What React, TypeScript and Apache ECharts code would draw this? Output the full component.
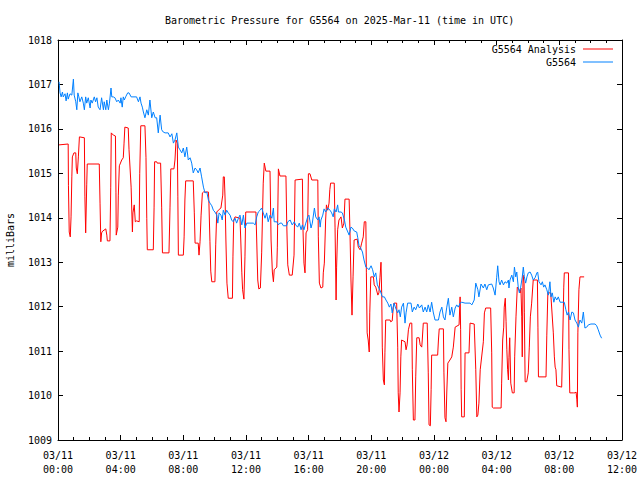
import React, { useEffect, useRef } from "react";
import * as echarts from "echarts";

const TITLE = "Barometric Pressure for G5564 on 2025-Mar-11 (time in UTC)";
const Y_NAME = "milliBars";
const SERIES_NAMES = ["G5564 Analysis", "G5564"];

// minutes since 03/11 00:00 UTC
const analysisMinutes = [4,39,40,43,47,50,53,55,61,68,70,74,78,82,101,103,106,110,112,158,161,164,167,171,183,187,189,199,202,204,212,220,222,223,229,231,235,244,250,253,256,269,272,280,285,287,292,296,301,311,313,317,333,337,340,342,365,368,370,378,380,393,397,400,425,429,432,444,448,452,457,459,461,480,483,486,489,518,522,525,537,540,544,548,553,557,576,578,582,585,589,601,604,608,614,624,631,633,637,640,643,647,652,668,670,673,678,697,700,704,707,712,716,719,758,761,765,769,775,780,786,790,796,812,816,821,825,828,838,840,844,850,873,876,880,886,897,904,908,936,938,942,946,950,956,959,965,972,995,997,1001,1007,1014,1016,1020,1025,1028,1033,1038,1041,1044,1058,1061,1065,1067,1071,1076,1084,1089,1095,1099,1115,1118,1122,1126,1130,1134,1146,1150,1157,1163,1169,1173,1179,1181,1184,1188,1192,1194,1198,1208,1211,1217,1225,1229,1233,1237,1240,1242,1246,1250,1252,1255,1272,1274,1280,1284,1287,1297,1301,1303,1306,1310,1313,1316,1329,1333,1337,1342,1348,1355,1357,1361,1367,1370,1374,1383,1387,1393,1395,1399,1414,1418,1421,1426,1429,1431,1454,1457,1460,1476,1478,1482,1486,1489,1493,1501,1508,1514,1521,1536,1540,1542,1544,1546,1556,1559,1574,1578,1594,1600,1604,1608,1612,1617,1629,1633,1638,1657,1661,1663,1667,1697,1699,1703,1707,1709,1713,1716,1719,1722,1725,1727,1730,1734,1740,1747,1749,1754,1759,1766,1770,1773,1776,1778,1781,1785,1786,1789,1795,1801,1805,1809,1814,1820,1836,1838,1840,1869,1872,1876,1887,1897,1901,1904,1907,1910,1929,1933,1937,1939,1955,1957,1960,1974,1980,1984,1987,1989,1991,1995,1999,2015];
const analysisValues = [1015.64,1015.66,1014.72,1013.68,1013.57,1014.02,1014.92,1015.37,1015.46,1015.46,1015.12,1014.99,1015.37,1015.82,1015.80,1014.47,1013.66,1014.74,1015.21,1015.21,1014.33,1013.46,1013.66,1013.70,1013.75,1013.61,1013.48,1013.48,1014.69,1015.91,1015.86,1015.84,1014.56,1013.61,1013.79,1014.51,1015.17,1015.30,1015.35,1015.68,1016.04,1016.02,1015.53,1014.69,1013.68,1014.11,1014.29,1013.91,1013.93,1013.91,1014.99,1016.07,1016.07,1015.35,1013.99,1013.28,1013.28,1014.24,1015.26,1015.26,1015.23,1015.23,1014.24,1013.21,1013.21,1014.24,1015.10,1015.10,1015.30,1015.75,1015.68,1014.47,1013.16,1013.16,1013.57,1014.40,1014.83,1014.83,1014.11,1013.43,1013.43,1013.16,1013.46,1014.06,1014.56,1014.58,1014.58,1014.33,1013.46,1012.80,1012.56,1012.56,1013.39,1014.13,1014.17,1014.22,1014.51,1014.92,1014.92,1014.40,1013.50,1012.53,1012.19,1012.19,1013.12,1013.95,1014.02,1013.99,1013.50,1012.76,1012.38,1012.17,1013.12,1014.13,1014.13,1013.50,1012.60,1012.40,1012.42,1013.21,1014.78,1015.23,1015.05,1015.05,1013.50,1012.78,1012.56,1012.83,1012.89,1013.34,1015.10,1014.94,1014.94,1013.88,1012.94,1012.71,1012.71,1013.16,1014.85,1014.87,1013.79,1012.98,1012.76,1013.66,1013.73,1014.99,1014.99,1014.85,1014.85,1013.57,1012.53,1012.42,1012.44,1012.76,1012.98,1013.95,1014.29,1014.17,1014.33,1014.63,1014.78,1014.78,1013.79,1012.15,1012.89,1013.73,1013.95,1014.02,1013.77,1013.88,1014.42,1014.42,1013.73,1012.60,1011.81,1012.67,1013.50,1013.52,1013.34,1013.28,1013.43,1013.57,1013.91,1013.91,1012.76,1011.41,1011.25,1010.98,1011.86,1012.67,1012.67,1012.49,1012.44,1012.26,1012.31,1012.65,1013.00,1012.22,1011.09,1010.35,1010.24,1010.96,1011.70,1011.70,1011.66,1011.68,1011.99,1012.08,1012.08,1011.09,1010.06,1009.63,1010.06,1010.87,1011.25,1011.21,1011.03,1011.14,1011.48,1011.63,1011.63,1010.58,1009.45,1009.45,1010.42,1011.30,1011.30,1011.14,1011.09,1011.25,1011.63,1011.63,1010.51,1009.34,1009.32,1010.13,1010.91,1010.91,1011.25,1011.50,1011.50,1010.51,1009.50,1009.41,1010.08,1010.73,1010.80,1010.87,1011.09,1011.54,1011.59,1012.22,1011.48,1010.13,1009.52,1009.52,1010.96,1010.96,1011.63,1011.61,1010.58,1009.52,1009.56,1009.83,1010.58,1011.21,1011.86,1011.97,1011.97,1010.96,1009.74,1009.72,1009.72,1010.28,1011.25,1011.54,1011.99,1012.19,1011.66,1011.03,1010.58,1010.35,1010.85,1011.30,1010.28,1010.06,1010.06,1010.87,1011.77,1012.44,1012.38,1012.31,1012.42,1011.77,1010.87,1012.71,1012.53,1011.86,1010.31,1010.31,1010.51,1011.09,1011.77,1012.08,1012.60,1012.60,1011.54,1010.42,1010.42,1011.36,1012.31,1012.31,1011.41,1010.87,1010.64,1010.58,1010.22,1010.19,1011.25,1012.44,1012.76,1012.76,1011.03,1010.06,1010.06,1010.06,1010.08,1009.92,1009.74,1011.41,1012.38,1012.67,1012.67];

const obsMinutes = [4,8,12,17,20,27,31,36,39,46,53,59,62,68,72,76,80,84,91,97,101,106,110,116,123,126,131,139,144,149,154,161,167,174,177,183,187,193,197,203,206,212,218,225,231,238,241,246,250,254,259,267,272,280,301,308,314,318,323,327,333,340,346,352,359,365,372,378,384,391,397,403,410,422,429,436,442,448,455,461,467,474,480,486,493,499,506,512,518,525,531,537,544,550,557,563,570,576,582,589,595,601,608,612,617,624,629,633,640,646,652,659,665,671,678,684,691,697,704,710,716,723,735,748,755,761,767,774,780,786,793,799,805,812,819,825,828,838,844,850,857,863,876,880,889,897,905,910,918,924,931,936,942,949,953,956,961,969,974,982,987,995,1000,1004,1007,1014,1019,1025,1033,1042,1048,1054,1058,1065,1071,1074,1084,1089,1097,1102,1110,1115,1122,1127,1135,1144,1148,1153,1159,1166,1172,1179,1185,1191,1199,1205,1211,1217,1223,1229,1236,1242,1250,1256,1263,1269,1275,1280,1287,1293,1301,1306,1311,1316,1323,1329,1333,1339,1352,1357,1364,1370,1378,1384,1393,1399,1406,1412,1418,1425,1431,1437,1444,1457,1463,1470,1476,1482,1489,1495,1501,1508,1514,1521,1527,1533,1540,1546,1559,1578,1585,1594,1600,1608,1612,1620,1629,1635,1642,1648,1661,1667,1674,1680,1684,1689,1693,1699,1706,1712,1719,1725,1727,1731,1738,1744,1748,1753,1757,1763,1767,1772,1778,1782,1786,1791,1796,1801,1808,1814,1820,1827,1834,1837,1842,1850,1855,1860,1865,1872,1878,1884,1888,1893,1899,1904,1910,1916,1923,1939,1945,1950,1955,1961,1968,1974,1980,1987,1993,1999,2006,2012,2018,2025,2031,2041,2057,2063,2069,2076,2082];
const obsValues = [1017.06,1016.81,1016.72,1016.83,1016.72,1016.79,1016.63,1016.81,1016.67,1016.79,1016.76,1017.12,1016.76,1016.61,1016.43,1016.81,1016.72,1016.61,1016.72,1016.58,1016.43,1016.72,1016.58,1016.70,1016.47,1016.65,1016.58,1016.72,1016.61,1016.70,1016.49,1016.43,1016.70,1016.43,1016.61,1016.43,1016.65,1016.43,1016.58,1016.92,1016.72,1016.72,1016.70,1016.61,1016.65,1016.58,1016.70,1016.49,1016.72,1016.65,1016.72,1016.81,1016.81,1016.72,1016.72,1016.61,1016.72,1016.58,1016.49,1016.38,1016.25,1016.43,1016.31,1016.65,1016.25,1016.38,1016.25,1016.25,1015.91,1016.31,1015.98,1015.93,1015.91,1015.91,1015.82,1015.89,1015.68,1015.75,1015.91,1015.59,1015.53,1015.46,1015.57,1015.37,1015.59,1015.30,1015.35,1015.23,1015.01,1015.12,1015.08,1015.01,1015.12,1014.92,1014.69,1014.56,1014.58,1014.40,1014.33,1014.27,1014.17,1014.13,1014.06,1013.88,1014.11,1014.06,1013.95,1014.17,1014.06,1014.17,1014.11,1014.06,1013.95,1013.91,1013.99,1013.88,1013.99,1014.06,1013.84,1014.06,1013.77,1013.88,1013.88,1013.88,1013.84,1014.02,1014.13,1014.17,1014.22,1014.11,1013.99,1014.11,1013.91,1014.06,1013.99,1014.22,1013.91,1013.91,1013.84,1013.88,1013.88,1013.82,1013.82,1013.91,1013.95,1013.84,1013.91,1013.84,1013.79,1013.88,1013.73,1013.84,1013.73,1013.88,1013.95,1014.02,1014.06,1013.77,1013.88,1014.22,1014.02,1013.95,1014.02,1013.79,1013.95,1014.06,1014.20,1014.13,1014.22,1014.17,1014.11,1014.02,1014.20,1014.13,1014.29,1014.13,1014.13,1014.11,1013.95,1013.79,1013.68,1013.61,1013.79,1013.77,1013.70,1013.68,1013.55,1013.37,1013.32,1013.23,1013.05,1012.89,1012.87,1012.83,1012.92,1012.83,1012.67,1012.76,1012.49,1012.42,1012.33,1012.22,1012.22,1012.15,1012.08,1011.99,1012.06,1011.86,1012.08,1011.97,1011.86,1011.93,1011.77,1011.99,1012.08,1011.63,1011.86,1012.08,1012.08,1011.88,1011.99,1011.93,1012.06,1011.97,1012.04,1011.88,1011.99,1011.88,1012.04,1011.88,1012.10,1011.88,1011.70,1011.70,1011.88,1011.99,1011.77,1011.70,1011.99,1012.19,1011.81,1011.99,1011.77,1011.97,1012.04,1011.99,1012.08,1012.10,1012.08,1012.08,1012.04,1012.15,1012.53,1012.38,1012.22,1012.51,1012.42,1012.51,1012.38,1012.49,1012.51,1012.42,1012.26,1012.65,1012.92,1012.56,1012.49,1012.60,1012.49,1012.56,1012.53,1012.60,1012.42,1012.60,1012.71,1012.56,1012.89,1012.67,1012.78,1012.42,1012.31,1012.44,1012.67,1012.89,1012.67,1012.53,1012.67,1012.76,1012.78,1012.71,1012.60,1012.65,1012.76,1012.78,1012.56,1012.49,1012.56,1012.44,1012.49,1012.38,1012.26,1012.56,1012.22,1012.31,1012.10,1012.22,1012.15,1012.22,1012.10,1012.10,1011.93,1011.81,1011.88,1011.70,1011.88,1011.86,1011.70,1011.63,1011.54,1011.70,1011.63,1011.88,1011.52,1011.54,1011.59,1011.61,1011.61,1011.57,1011.48,1011.36,1011.29];

const X_MIN = 0;
const X_MAX = 2160;
const X_STEP = 240;
const Y_MIN = 1009;
const Y_MAX = 1018;

const FONT = "DejaVu Sans Mono";
const RED = "#ff0000";
const BLUE = "#0080ff";

function pad(n: number) {
  return n < 10 ? "0" + n : "" + n;
}
function fmtTime(v: number) {
  const day = 11 + Math.floor(v / 1440);
  const h = Math.floor((v % 1440) / 60);
  return "03/" + pad(day) + "\n" + pad(h) + ":00";
}

export default function App() {
  const ref = useRef<HTMLDivElement>(null);
  useEffect(() => {
    if (!ref.current) return;
    const chart = echarts.init(ref.current, null, { renderer: "svg" });
    const tickCommon = {
      show: true,
      inside: true,
      length: 5,
      lineStyle: { color: "#000", width: 1 },
    };
    const minorCommon = {
      show: true,
      splitNumber: 4,
      length: 3,
      lineStyle: { color: "#000", width: 1 },
    };
    const xBase = {
      type: "value",
      min: X_MIN,
      max: X_MAX,
      interval: X_STEP,
      axisLine: { show: true, onZero: false, lineStyle: { color: "#000", width: 1 } },
      axisTick: tickCommon,
      minorTick: minorCommon,
      splitLine: { show: false },
    };
    const yBase = {
      type: "value",
      min: Y_MIN,
      max: Y_MAX,
      interval: 1,
      axisLine: { show: true, onZero: false, lineStyle: { color: "#000", width: 1 } },
      axisTick: tickCommon,
      splitLine: { show: false },
    };
    const legendCommon = {
      right: 27,
      align: "right",
      icon: "rect",
      itemWidth: 30,
      itemHeight: 1,
      itemGap: 4,
      padding: 0,
      textStyle: { fontFamily: FONT, fontSize: 10, color: "#000", padding: [0, 2, 0, 0] },
    };
    chart.setOption({
      animation: false,
      backgroundColor: "#fff",
      title: {
        text: TITLE,
        left: 160,
        top: 10,
        textStyle: { fontFamily: FONT, fontSize: 10, fontWeight: "normal", color: "#000" },
      },
      grid: {
        left: 58,
        right: 18,
        top: 40,
        bottom: 40,
        containLabel: false,
        outerBoundsMode: "none",
      },
      legend: [
        { ...legendCommon, data: [SERIES_NAMES[0]], top: 44 },
        { ...legendCommon, data: [SERIES_NAMES[1]], top: 57 },
      ],
      xAxis: [
        {
          ...xBase,
          position: "bottom",
          axisLabel: {
            show: true,
            formatter: (v: number) => fmtTime(v),
            fontFamily: FONT,
            fontSize: 10,
            color: "#000",
            lineHeight: 14,
            margin: 8,
            alignMinLabel: "center",
            alignMaxLabel: "center",
          },
        },
        {
          ...xBase,
          position: "top",
          axisLabel: { show: false },
        },
      ],
      yAxis: [
        {
          ...yBase,
          position: "left",
          name: Y_NAME,
          nameLocation: "middle",
          nameRotate: 90,
          nameGap: 43,
          nameTextStyle: { fontFamily: FONT, fontSize: 10, color: "#000" },
          axisLabel: {
            show: true,
            formatter: (v: number) => String(v),
            fontFamily: FONT,
            fontSize: 10,
            color: "#000",
            margin: 6,
          },
        },
        {
          ...yBase,
          position: "right",
          axisLabel: { show: false },
        },
      ],
      series: [
        {
          name: SERIES_NAMES[0],
          type: "line",
          xAxisIndex: 0,
          yAxisIndex: 0,
          showSymbol: false,
          symbol: "none",
          color: RED,
          lineStyle: { color: RED, width: 1 },
          data: analysisMinutes.map((t, i) => [t, analysisValues[i]]),
          z: 2,
        },
        {
          name: SERIES_NAMES[1],
          type: "line",
          xAxisIndex: 0,
          yAxisIndex: 0,
          showSymbol: false,
          symbol: "none",
          color: BLUE,
          lineStyle: { color: BLUE, width: 1 },
          data: obsMinutes.map((t, i) => [t, obsValues[i]]),
          z: 3,
        },
      ],
    });
    return () => chart.dispose();
  }, []);
  return (
    <div
      ref={ref}
      style={{ position: "fixed", left: 0, top: 0, width: 640, height: 480, background: "#fff" }}
    />
  );
}
